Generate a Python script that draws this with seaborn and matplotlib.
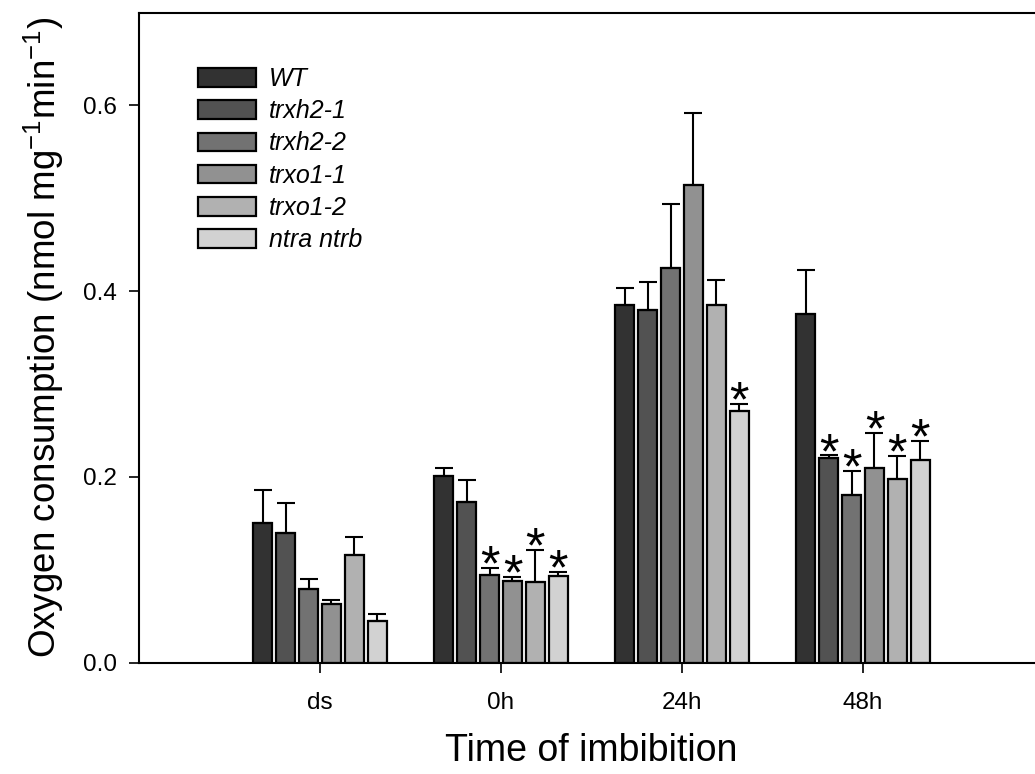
import numpy as np
import pandas as pd
import seaborn as sns
import matplotlib
matplotlib.use('Agg')
import matplotlib.pyplot as plt

# values
times = ['ds', '0h', '24h', '48h']
genotypes = ['WT', 'trxh2-1', 'trxh2-2', 'trxo1-1', 'trxo1-2', 'ntra ntrb']
colors = ['#323232', '#525252', '#727272', '#919191', '#b1b1b1', '#d2d2d2']

# mean oxygen consumption, one list per genotype (ds, 0h, 24h, 48h)
wt = [0.150, 0.201, 0.385, 0.375]
trxh2_1 = [0.139, 0.173, 0.380, 0.220]
trxh2_2 = [0.079, 0.094, 0.425, 0.180]
trxo1_1 = [0.063, 0.088, 0.514, 0.210]
trxo1_2 = [0.116, 0.087, 0.385, 0.198]
ntra_ntrb = [0.045, 0.093, 0.271, 0.218]

# upper error (SE)
wt_err = [0.036, 0.008, 0.018, 0.048]
trxh2_1_err = [0.033, 0.024, 0.030, 0.003]
trxh2_2_err = [0.011, 0.008, 0.069, 0.026]
trxo1_1_err = [0.004, 0.004, 0.078, 0.037]
trxo1_2_err = [0.019, 0.034, 0.027, 0.024]
ntra_ntrb_err = [0.007, 0.005, 0.007, 0.021]

# significance stars
wt_sig = [0, 0, 0, 0]
trxh2_1_sig = [0, 0, 0, 1]
trxh2_2_sig = [0, 1, 0, 1]
trxo1_1_sig = [0, 1, 0, 1]
trxo1_2_sig = [0, 1, 0, 1]
ntra_ntrb_sig = [0, 1, 1, 1]

means = [wt, trxh2_1, trxh2_2, trxo1_1, trxo1_2, ntra_ntrb]
errs = [wt_err, trxh2_1_err, trxh2_2_err, trxo1_1_err, trxo1_2_err, ntra_ntrb_err]
sigs = [wt_sig, trxh2_1_sig, trxh2_2_sig, trxo1_1_sig, trxo1_2_sig, ntra_ntrb_sig]

rows = []
for g, vals in zip(genotypes, means):
    for t, v in zip(times, vals):
        rows.append({'time': t, 'genotype': g, 'value': v})
df = pd.DataFrame(rows)

sns.set_style('ticks')
plt.rcParams['font.family'] = ['Liberation Sans', 'DejaVu Sans']
plt.rcParams['mathtext.fontset'] = 'custom'
plt.rcParams['mathtext.rm'] = 'Liberation Sans'
plt.rcParams['mathtext.it'] = 'Liberation Sans:italic'
plt.rcParams['text.color'] = 'black'
plt.rcParams['axes.labelcolor'] = 'black'
plt.rcParams['xtick.color'] = 'black'
plt.rcParams['ytick.color'] = 'black'

fig = plt.figure(figsize=(10.35, 7.74), dpi=100)
ax = fig.add_axes([139 / 1035, 1 - 662.5 / 774, (1044 - 139) / 1035, 650 / 774])

sns.barplot(data=df, x='time', y='value', hue='genotype', order=times, hue_order=genotypes,
            palette=colors, edgecolor='black', linewidth=1.6, width=0.76, gap=0.18,
            errorbar=None, saturation=1, ax=ax)

for cont, e, s in zip(ax.containers, errs, sigs):
    xs = [p.get_x() + p.get_width() / 2 for p in cont.patches]
    hs = [p.get_height() for p in cont.patches]
    ax.errorbar(xs, hs, yerr=[np.zeros(len(e)), e], fmt='none', ecolor='black',
                elinewidth=1.5, capsize=6.5, capthick=1.5, zorder=1)
    for x, h, ee, flag in zip(xs, hs, e, s):
        if flag:
            ax.annotate('*', (x, h + ee), xytext=(0, -9), textcoords='offset points',
                        ha='center', va='baseline', fontsize=36)

handles, labels = ax.get_legend_handles_labels()
for hd in handles:
    hd.set_edgecolor('black')
    hd.set_linewidth(1.6)
ax.legend(handles, labels, loc='upper left', bbox_to_anchor=(198 / 1035, 1 - 67 / 774),
          bbox_transform=fig.transFigure, frameon=False, prop={'style': 'italic', 'size': 18},
          handlelength=2.3, handleheight=0.76, handletextpad=0.55, labelspacing=0.33,
          borderpad=0, borderaxespad=0)

ax.set_xlim(-1, 4)
ax.set_ylim(0, 0.7)
ax.set_yticks([0.0, 0.2, 0.4, 0.6])
ax.set_yticklabels(['0.0', '0.2', '0.4', '0.6'])
ax.tick_params(axis='both', direction='out', length=7, width=1.2, labelsize=17.5, color='black')
ax.tick_params(axis='x', pad=14)
ax.tick_params(axis='y', pad=9)
for side in ['left', 'bottom', 'top']:
    ax.spines[side].set_linewidth(1.5)
    ax.spines[side].set_color('black')
ax.spines['right'].set_visible(False)

ax.set_xlabel('Time of imbibition', fontsize=27, labelpad=14)
ax.set_ylabel('Oxygen consumption (nmol mg$^{-1}$min$^{-1}$)', fontsize=26.5, labelpad=12)

fig.savefig('out.png', dpi=100)
